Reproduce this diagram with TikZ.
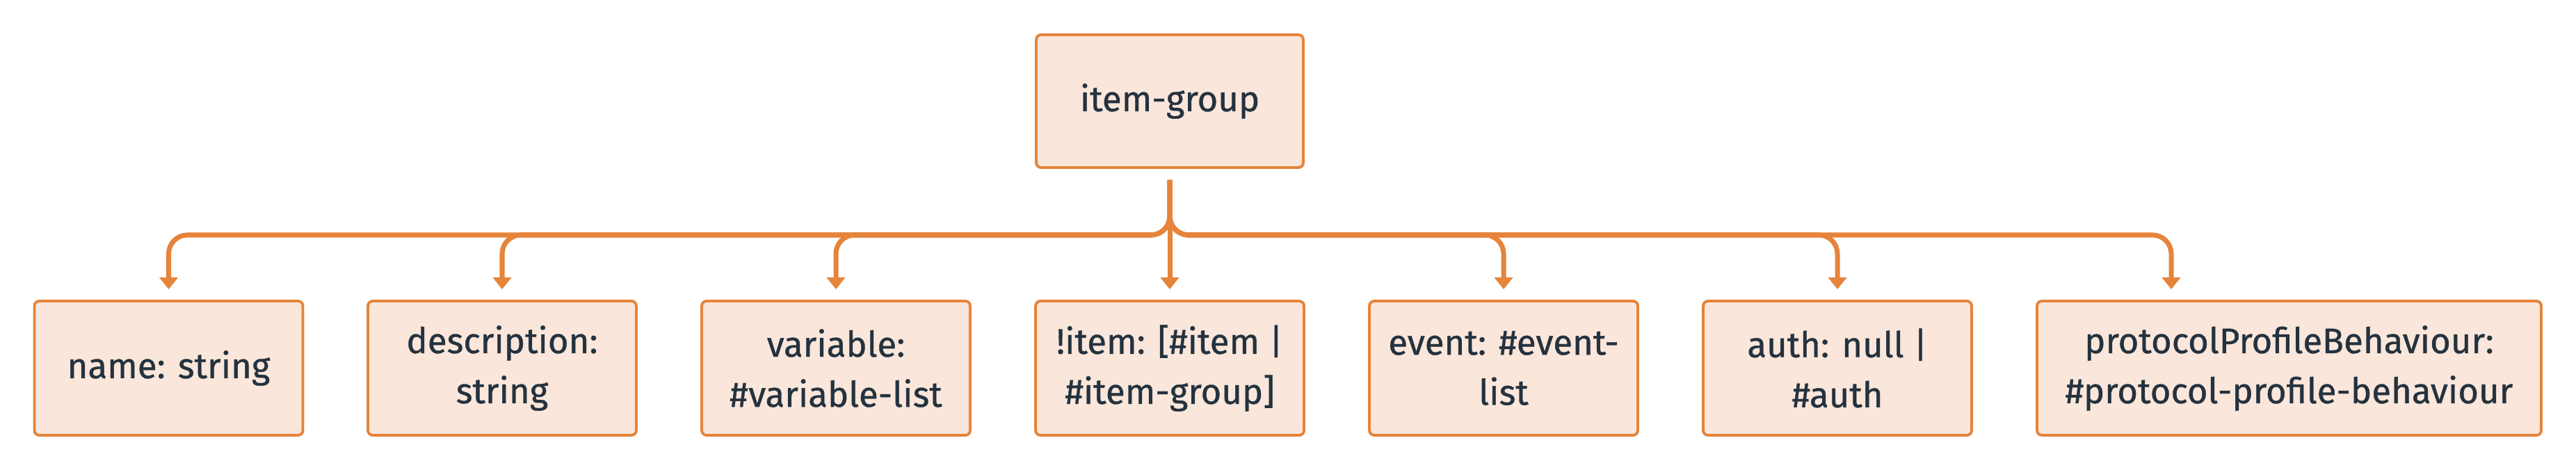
\documentclass[tikz,border=0pt]{standalone}
\usepackage{fontspec}
\setmainfont{Fira Sans}
\newfontfamily\labelfont{Fira Sans}[FakeBold=0.7]
\usetikzlibrary{arrows.meta}
\definecolor{edgeorange}{HTML}{E5843A}
\definecolor{boxfill}{HTML}{FAE6DA}
\definecolor{labelink}{HTML}{24323F}
\tikzset{
  field/.style={draw=edgeorange, fill=boxfill, line width=1.1pt, rounded corners=2pt,
    minimum width=3.86cm, minimum height=1.93cm, align=center, text=labelink,
    font=\labelfont\fontsize{14.5}{20.5}\selectfont},
  link/.style={draw=edgeorange, line width=2pt, rounded corners=0.27cm,
    -{Triangle[width=0.26cm,length=0.17cm]}}
}
\begin{document}
\begin{tikzpicture}
    \useasboundingbox (0,0) rectangle (37.04,-6.76);
    \node[field, minimum width=3.84cm, minimum height=1.91cm] (group) at (16.82,-1.455) {item-group};
    % 子ノード
    \node[field] (name) at (2.425,-5.295) {name: string};
    \node[field] (desc) at (7.22,-5.295) {description:\\string};
    \node[field] (var) at (12.02,-5.295) {variable:\\\#variable-list};
    \node[field] (item) at (16.82,-5.295) {!item: [\#item |\\\#item-group]};
    \node[field] (event) at (21.62,-5.295) {event: \#event-\\list};
    \node[field] (auth) at (26.42,-5.295) {auth: null |\\\#auth};
    \node[field, minimum width=7.25cm] (behaviour) at (32.915,-5.295) {protocolProfileBehaviour:\\\#protocol-profile-behaviour};
    \coordinate (top) at ([yshift=-0.16cm]group.south);
    \coordinate (split) at (16.82,-3.38);
    \coordinate (pbIn) at ([xshift=-1.695cm,yshift=0.15cm]behaviour.north);
    \foreach \child in {name,desc,var,event,auth}
        \draw[link] (top) -- (split) -| ([yshift=0.15cm]\child.north);
    \draw[link] (top) -- ([yshift=0.15cm]item.north);
    \draw[link] (top) -- (split) -| (pbIn);
\end{tikzpicture}
\end{document}
